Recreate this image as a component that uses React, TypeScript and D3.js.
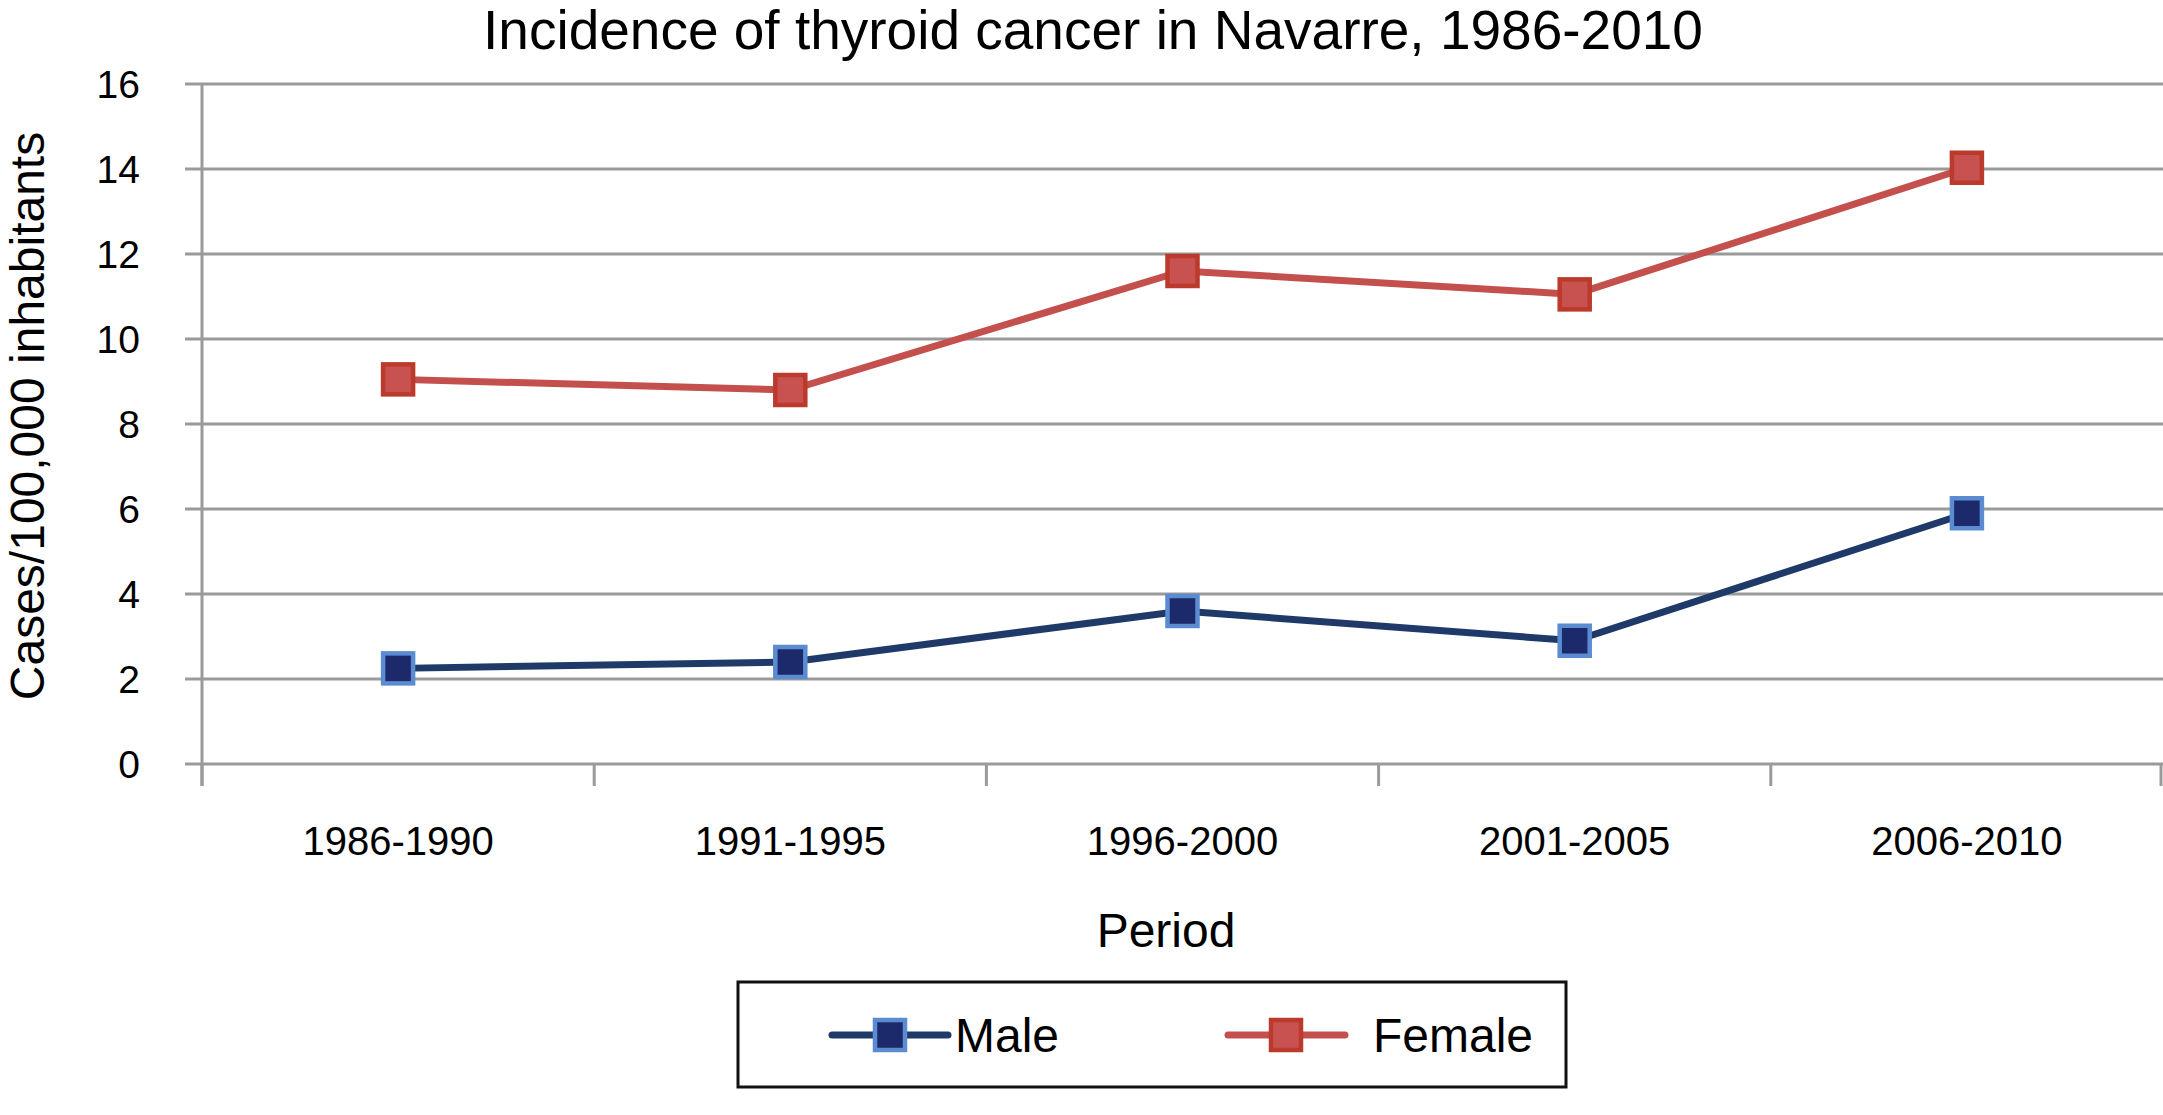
import React from "react";
import * as d3 from "d3";

const periods = ["1986-1990", "1991-1995", "1996-2000", "2001-2005", "2006-2010"];
const maleValues = [2.25, 2.4, 3.6, 2.9, 5.9];
const femaleValues = [9.05, 8.8, 11.6, 11.05, 14.03];
const yTicks = [0, 2, 4, 6, 8, 10, 12, 14, 16];

const W = 2163;
const H = 1115;
const left = 202;
const right = 2163;
const top = 84;
const bottom = 764;
const FONT = "'Liberation Sans', Arial, Helvetica, sans-serif";

const maleLine = "#1f3a68";
const maleFill = "#1c2a6b";
const maleStroke = "#5b8bd0";
const femLine = "#c4504d";
const femFill = "#c8524f";
const femStroke = "#bb3a2c";
const gridColor = "#9a9a9a";

export default function App() {
  const x = d3.scaleBand<string>().domain(periods).range([left, right]).padding(0);
  const y = d3.scaleLinear().domain([0, 16]).range([bottom, top]);
  const cx = (p: string) => (x(p) as number) + x.bandwidth() / 2;
  const line = d3
    .line<number>()
    .x((_, i) => cx(periods[i]))
    .y((v) => y(v));
  const boundaries = [...periods.map((p) => x(p) as number), right - 2];
  const ms = 30;

  const marker = (px: number, py: number, fill: string, stroke: string, key: string) => (
    <rect key={key} x={px - ms / 2} y={py - ms / 2} width={ms} height={ms} fill={fill} stroke={stroke} strokeWidth={4.5} />
  );

  return (
    <svg width={W} height={H} style={{ position: "absolute", left: 0, top: 0, background: "#fff" }} fontFamily={FONT}>
      <rect width={W} height={H} fill="#fff" />
      <text x={1093} y={49} textAnchor="middle" fontSize={55} fill="#000">
        Incidence of thyroid cancer in Navarre, 1986-2010
      </text>
      {yTicks.map((t) => (
        <g key={t}>
          <line x1={left - 17} x2={right} y1={y(t)} y2={y(t)} stroke={gridColor} strokeWidth={3} />
          <text x={140} y={y(t)} dy="0.36em" textAnchor="end" fontSize={39} fill="#000">
            {t}
          </text>
        </g>
      ))}
      <line x1={left} x2={left} y1={top} y2={bottom + 22} stroke={gridColor} strokeWidth={3} />
      {boundaries.map((b, i) => (
        <line key={i} x1={b} x2={b} y1={bottom} y2={bottom + 22} stroke={gridColor} strokeWidth={3} />
      ))}
      {periods.map((p) => (
        <text key={p} x={cx(p)} y={855} textAnchor="middle" fontSize={40} fill="#000">
          {p}
        </text>
      ))}
      <text x={1166} y={947} textAnchor="middle" fontSize={48} fill="#000">
        Period
      </text>
      <text
        transform={`translate(44, ${(top + bottom) / 2 - 8}) rotate(-90)`}
        textAnchor="middle"
        fontSize={48}
        fill="#000"
      >
        Cases/100,000 inhabitants
      </text>

      <path d={line(femaleValues) ?? ""} fill="none" stroke={femLine} strokeWidth={7} />
      <path d={line(maleValues) ?? ""} fill="none" stroke={maleLine} strokeWidth={7} />
      {femaleValues.map((v, i) => marker(cx(periods[i]), y(v), femFill, femStroke, "f" + i))}
      {maleValues.map((v, i) => marker(cx(periods[i]), y(v), maleFill, maleStroke, "m" + i))}

      <rect x={738} y={982} width={828} height={105} fill="#fff" stroke="#111" strokeWidth={3} />
      <line x1={832} x2={948} y1={1035} y2={1035} stroke={maleLine} strokeWidth={7} strokeLinecap="round" />
      {marker(890, 1035, maleFill, maleStroke, "lm")}
      <text x={955} y={1035} dy="0.36em" fontSize={48} fill="#000">
        Male
      </text>
      <line x1={1228} x2={1345} y1={1035} y2={1035} stroke={femLine} strokeWidth={7} strokeLinecap="round" />
      {marker(1286, 1035, femFill, femStroke, "lf")}
      <text x={1373} y={1035} dy="0.36em" fontSize={48} fill="#000">
        Female
      </text>
    </svg>
  );
}
